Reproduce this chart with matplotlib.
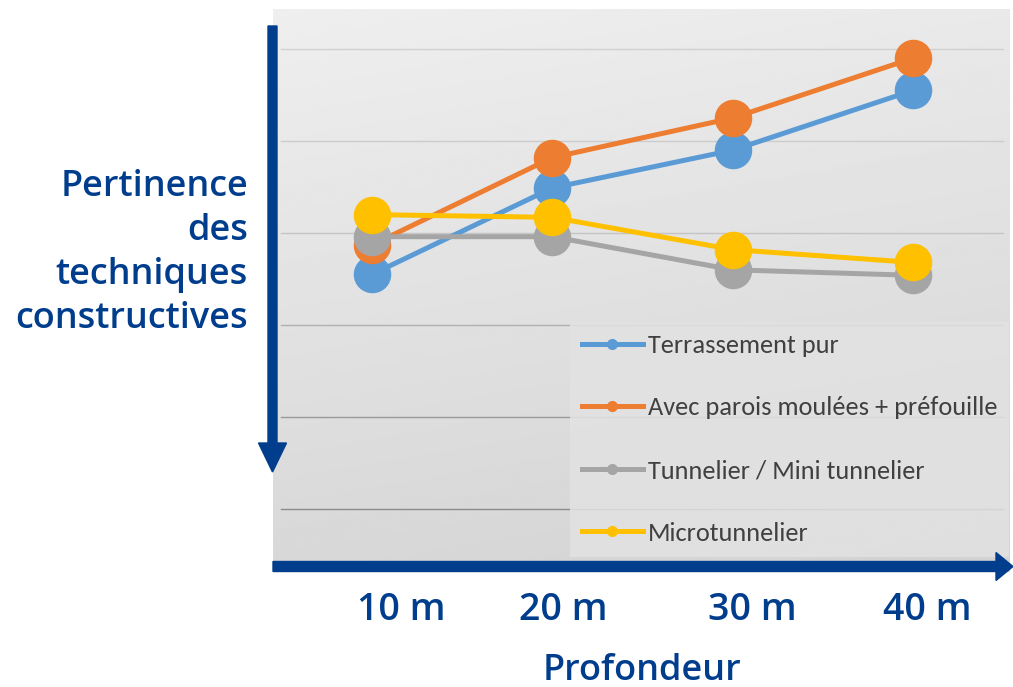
import numpy as np
import matplotlib
matplotlib.use("Agg")
import matplotlib.pyplot as plt
import matplotlib.patches as mpatches
from matplotlib.transforms import ScaledTranslation
from matplotlib import font_manager

DEPTHS = ["10 m", "20 m", "30 m", "40 m"]
SERIES = ["Terrassement pur", "Avec parois moulées + préfouille",
          "Tunnelier / Mini tunnelier", "Microtunnelier"]
terrassement = [2.55, 3.49, 3.90, 4.55]
parois = [2.87, 3.82, 4.25, 4.90]
tunnelier = [2.96, 2.96, 2.60, 2.54]
microtunnelier = [3.20, 3.17, 2.82, 2.68]
GRID_LEVELS = [0, 1, 2, 3, 4, 5]
COLORS = ["#5b9bd5", "#ed7d31", "#a5a5a5", "#ffc000"]
BLUE = "#003d8c"
TICK_SHIFT_PX = [29, 11, 20, 14]

names = {f.name for f in font_manager.fontManager.ttflist}
legend_font = next((n for n in ["Carlito", "Open Sans Condensed", "Archivo Narrow",
                                "Barlow Semi Condensed"] if n in names), "DejaVu Sans")

plt.rcParams["font.family"] = ["Open Sans", "DejaVu Sans"]
fig = plt.figure(figsize=(10.13, 6.87), dpi=100)
W, H = 1013, 687
ax = fig.add_axes([273 / W, 1 - 572 / H, 737 / W, 563 / H])
ax.set_xlim(-0.549, 3.538)
ax.set_ylim(-0.685, 5.435)

# gradient background
gy, gx = np.mgrid[0:1:200j, 0:1:200j]
shade = 0.935 - 0.09 * gy - 0.02 * gx
ax.imshow(shade, cmap="gray", vmin=0, vmax=1, extent=(0, 1, 0, 1),
          transform=ax.transAxes, aspect="auto", zorder=0)

grid_cols = ["#8c8c8c", "#9a9a9a", "#b0b0b0", "#c4c4c4", "#cccccc", "#d0d0d0"]
for lvl, c in zip(GRID_LEVELS, grid_cols):
    ax.axhline(lvl, xmin=0.011, xmax=0.99, color=c, lw=1.0, zorder=1)

x = np.arange(len(DEPTHS))
for vals, col, name in zip([terrassement, parois, tunnelier, microtunnelier],
                           COLORS, SERIES):
    ax.plot(x, vals, color=col, lw=3.6, marker="o", ms=26,
            solid_capstyle="round", zorder=3)
    ax.plot([], [], color=col, lw=3.6, marker="o", ms=7, label=name)

for s in ax.spines.values():
    s.set_visible(False)
ax.set_yticks([])
ax.set_xticks(x)
ax.set_xticklabels(DEPTHS, fontsize=27, color=BLUE, fontweight="semibold")
ax.tick_params(axis="x", length=0, pad=14)
for lab, sh in zip(ax.get_xticklabels(), TICK_SHIFT_PX):
    lab.set_transform(lab.get_transform()
                      + ScaledTranslation(sh / 100, 0, fig.dpi_scale_trans))

leg = ax.legend(loc="upper left", bbox_to_anchor=(0.403, 0.444),
                borderaxespad=0, frameon=True, fancybox=False,
                prop={"family": legend_font, "size": 19},
                handlelength=2.3, handletextpad=0.19, labelspacing=1.5,
                borderpad=0.45)
leg.get_frame().set_facecolor("#e2e2e2")
leg.get_frame().set_edgecolor("none")
leg.get_frame().set_alpha(0.85)
for t in leg.get_texts():
    t.set_color("#404040")

# axis arrows
fig.patches.append(mpatches.FancyArrow(
    2.725, 6.61, 0, -4.46, width=0.09, head_width=0.28, head_length=0.29,
    length_includes_head=True, color=BLUE, transform=fig.dpi_scale_trans,
    figure=fig))
fig.patches.append(mpatches.FancyArrow(
    2.73, 1.205, 7.40, 0, width=0.10, head_width=0.28, head_length=0.17,
    length_includes_head=True, color=BLUE, transform=fig.dpi_scale_trans,
    figure=fig))

fig.text(248 / W, 1 - 253 / H, "Pertinence\ndes\ntechniques\nconstructives",
         ha="right", va="center", fontsize=26, color=BLUE,
         fontweight="semibold", linespacing=1.3)
fig.text(642 / W, 1 - 671 / H, "Profondeur", ha="center", va="center",
         fontsize=26, color=BLUE, fontweight="semibold")

fig.savefig("out.png", dpi=100)
